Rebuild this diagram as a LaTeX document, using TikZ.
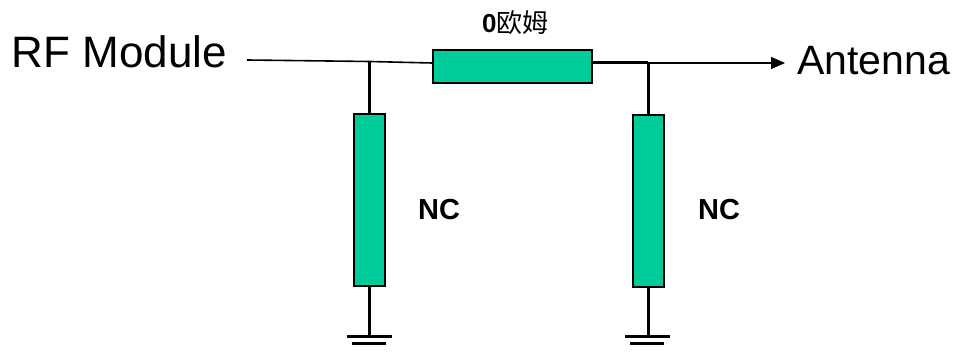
\documentclass[tikz,border=0pt]{standalone}
\usepackage{fontspec}
\setmainfont{Liberation Sans}
\newfontfamily\cjk{Noto Sans CJK SC}
\usetikzlibrary{arrows.meta}
\definecolor{resgreen}{HTML}{00CC99}
\tikzset{
  res/.style = {draw, line width=2pt, fill=resgreen, minimum width=#1, inner sep=0pt},
  wire/.style = {line width=3pt},
  thinwire/.style = {line width=1.6pt},
  lbl/.style = {inner sep=0pt}
}

\begin{document}
\begin{tikzpicture}[x=1pt, y=-1pt]
\useasboundingbox (0,0) rectangle (964,352);
\node [lbl, anchor=base east, font=\fontsize{44}{50}\selectfont] (rf) at (227,68) {RF Module};
\node [lbl, anchor=base west, font=\fontsize{41}{48}\selectfont] (ant) at (797,75) {Antenna};
\node [res=159pt, minimum height=33pt] (r0) at (512.5,66.5) {};
\node [res=31pt, minimum height=172pt] (r1) at (369.5,200.5) {};
\node [res=31pt, minimum height=172pt] (r2) at (648,201) {};
\node [lbl, anchor=base west, font=\fontsize{26}{30}\selectfont\bfseries] (r0lbl) at (482,33) {0{\cjk\mdseries 欧姆}};
\node [lbl, anchor=base west, font=\fontsize{29}{34}\selectfont\bfseries] (nc1) at (418,220) {NC};
\node [lbl, anchor=base west, font=\fontsize{29}{34}\selectfont\bfseries] (nc2) at (698,220) {NC};
\coordinate (rfin) at (247,60);
\coordinate (j1) at (369.5,61.5);
\coordinate (j2) at (648,63);
\coordinate (antin) at (785,63);
\coordinate (g1) at (369.5,337);
\coordinate (g2) at (648,337);
% feed line
\draw [thinwire] (rfin) -- (j1) -- (r0.west |- j2);
\draw [wire] (r0.east |- j2) -- (j2);
\draw [thinwire, -{Triangle[length=14pt, width=12pt]}] (j2) -- (antin);
% shunt branches
\draw [wire] (j1) -- (r1.north);
\draw [wire] (j2) -- (r2.north);
\draw [wire] (r1.south) -- (g1);
\draw [wire] (r2.south) -- (g2);
% grounds
\foreach \g in {g1, g2} {
  \draw [wire] ([xshift=-23pt]\g) -- ([xshift=22pt]\g);
  \draw [wire] ([xshift=-18pt, yshift=-7pt]\g) -- ([xshift=16pt, yshift=-7pt]\g);
}
\end{tikzpicture}
\end{document}
